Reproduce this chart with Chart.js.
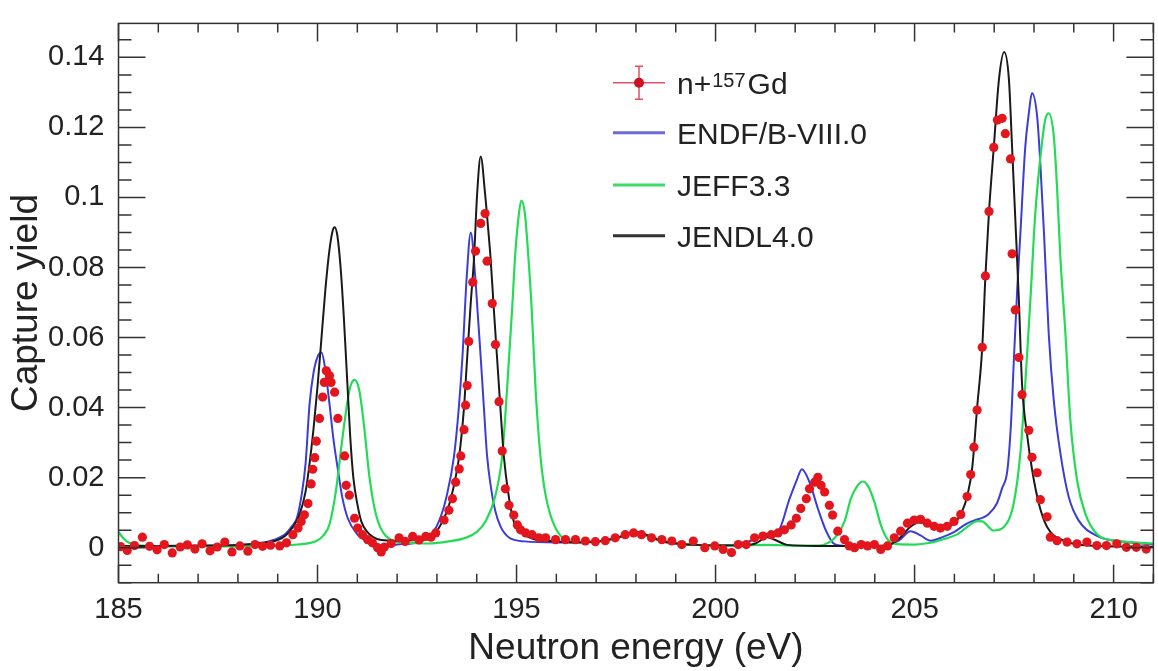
<!DOCTYPE html>
<html>
<head>
<meta charset="utf-8">
<script src="https://cdn.jsdelivr.net/npm/chart.js@4/dist/chart.umd.min.js"></script>
<style>
  html, body { margin: 0; padding: 0; background: #fff; }
  #wrap { width: 1158px; height: 671px; }
</style>
</head>
<body>
<div id="wrap"><canvas id="yieldChart" width="1158" height="671"></canvas></div>
<script>
// tick labels
const xTicks = [185, 190, 195, 200, 205, 210];
const yTicks = [0, 0.02, 0.04, 0.06, 0.08, 0.1, 0.12, 0.14];

const dataE = [185.05, 185.22, 185.40, 185.60, 185.78, 185.97, 186.15, 186.35, 186.55, 186.73,
  186.92, 187.10, 187.30, 187.48, 187.67, 187.85, 188.05, 188.25, 188.43, 188.62, 188.82,
  189.05, 189.22, 189.38, 189.51, 189.59, 189.67, 189.76, 189.84, 189.88, 189.93, 189.97,
  190.05, 190.13, 190.17, 190.22, 190.30, 190.34, 190.43, 190.51, 190.68, 190.72, 190.80,
  190.93, 191.01, 191.13, 191.26, 191.38, 191.51, 191.60, 191.68, 191.85, 192.05, 192.20,
  192.39, 192.55, 192.72, 192.85, 192.97, 193.18, 193.30, 193.39, 193.47, 193.56, 193.60,
  193.68, 193.72, 193.76, 193.80, 193.90, 193.97, 194.10, 194.21, 194.26, 194.39, 194.47,
  194.56, 194.64, 194.72, 194.81, 194.93, 195.02, 195.10, 195.23, 195.39, 195.56, 195.73,
  195.98, 196.23, 196.48, 196.73, 196.98, 197.23, 197.48, 197.73, 197.94, 198.14, 198.39,
  198.65, 198.90, 199.15, 199.44, 199.73, 199.98, 200.19, 200.40, 200.57, 200.77, 200.98,
  201.19, 201.40, 201.57, 201.73, 201.90, 202.03, 202.14, 202.28, 202.36, 202.49, 202.57,
  202.65, 202.74, 202.86, 202.94, 203.07, 203.24, 203.36, 203.49, 203.66, 203.82, 203.99,
  204.15, 204.32, 204.49, 204.65, 204.82, 204.99, 205.15, 205.32, 205.49, 205.65, 205.82,
  205.99, 206.16, 206.32, 206.41, 206.49, 206.57, 206.70, 206.78, 206.87, 206.99, 207.08,
  207.20, 207.28, 207.41, 207.45, 207.53, 207.62, 207.70, 207.87, 207.95, 208.08, 208.16,
  208.33, 208.41, 208.58, 208.83, 209.08, 209.33, 209.58, 209.82, 210.08, 210.32, 210.57, 210.82];
const dataY = [0.0003, -0.0008, 0.0006, 0.0030, 0.0004, -0.0006, 0.0009, -0.0015, 0.0002, 0.0008,
  -0.0004, 0.0011, -0.0009, 0.0002, 0.0016, -0.0012, 0.0005, -0.0010, 0.0009, 0.0004, 0.0007,
  0.0005, 0.0014, 0.0037, 0.0056, 0.0075, 0.0094, 0.0126, 0.0182, 0.0224, 0.0257, 0.0304,
  0.0369, 0.0430, 0.0472, 0.0505, 0.0491, 0.0472, 0.0444, 0.0369, 0.0262, 0.0178, 0.0150,
  0.0084, 0.0056, 0.0037, 0.0023, 0.0014, 0.0000, -0.0012, 0.0002, 0.0012, 0.0028, 0.0018,
  0.0032, 0.0022, 0.0032, 0.0030, 0.0042, 0.0079, 0.0107, 0.0140, 0.0187, 0.0225, 0.0262,
  0.0337, 0.0407, 0.0463, 0.0589, 0.0758, 0.0847, 0.0926, 0.0954, 0.0818, 0.0697, 0.0580,
  0.0417, 0.0276, 0.0168, 0.0121, 0.0093, 0.0065, 0.0051, 0.0042, 0.0037, 0.0028, 0.0028,
  0.0023, 0.0023, 0.0023, 0.0019, 0.0017, 0.0020, 0.0028, 0.0037, 0.0042, 0.0037, 0.0028,
  0.0023, 0.0019, 0.0009, 0.0019, 0.0000, 0.0005, -0.0005, -0.0014, 0.0009, 0.0009, 0.0028,
  0.0033, 0.0037, 0.0042, 0.0051, 0.0065, 0.0084, 0.0112, 0.0140, 0.0168, 0.0187, 0.0201,
  0.0178, 0.0159, 0.0121, 0.0093, 0.0047, 0.0023, 0.0005, 0.0000, 0.0009, 0.0005, 0.0009,
  -0.0005, 0.0005, 0.0028, 0.0047, 0.0070, 0.0079, 0.0081, 0.0070, 0.0061, 0.0056, 0.0061,
  0.0075, 0.0095, 0.0146, 0.0209, 0.0287, 0.0393, 0.0572, 0.0776, 0.0960, 0.1143, 0.1221,
  0.1226, 0.1182, 0.1110, 0.0839, 0.0679, 0.0543, 0.0437, 0.0335, 0.0258, 0.0214, 0.0137,
  0.0088, 0.0030, 0.0020, 0.0016, 0.0011, 0.0016, 0.0006, 0.0006, 0.0011, 0.0001, 0.0001, -0.0004];

// ENDF/B-VIII.0 curve
const endfE = [185.0, 186.0, 187.0, 188.0, 188.5, 188.9, 189.2, 189.35, 189.48, 189.6, 189.7, 189.8,
  189.9, 190.0, 190.1, 190.18, 190.3, 190.4, 190.51, 190.62, 190.76, 191.0, 191.22, 191.5, 191.7,
  192.0, 192.5, 192.8, 193.05, 193.25, 193.43, 193.55, 193.64, 193.75, 193.85, 193.96, 194.03,
  194.1, 194.18, 194.26, 194.36, 194.47, 194.6, 194.81, 195.2, 196.0, 197.0, 197.5, 198.0, 198.3,
  198.8, 199.5, 200.5, 201.0, 201.3, 201.57, 201.86, 202.03, 202.17, 202.36, 202.57, 202.78,
  202.99, 203.3, 204.2, 204.6, 204.9, 205.15, 205.4, 205.7, 206.0, 206.3, 206.55, 206.7, 206.85,
  207.07, 207.2, 207.33, 207.42, 207.5, 207.58, 207.66, 207.78, 207.87, 207.95, 208.08, 208.16,
  208.25, 208.37, 208.5, 208.66, 208.87, 209.12, 209.58, 210.4, 211.0];
const endfY = [0.0004, 0.0004, 0.0005, 0.0007, 0.0012, 0.0022, 0.0040, 0.0060, 0.0084, 0.0150, 0.0240, 0.0410,
  0.0500, 0.0545, 0.0557, 0.0520, 0.0411, 0.0310, 0.0224, 0.0145, 0.0084, 0.0038, 0.0019, 0.0008, 0.0006,
  0.0009, 0.0015, 0.0030, 0.0075, 0.0150, 0.0262, 0.0400, 0.0543, 0.0776, 0.0900, 0.0776, 0.0660,
  0.0543, 0.0400, 0.0262, 0.0170, 0.0103, 0.0060, 0.0029, 0.0018, 0.0015, 0.0017, 0.0027, 0.0043, 0.0033,
  0.0016, 0.0008, 0.0008, 0.0025, 0.0040, 0.0047, 0.0140, 0.0190, 0.0224, 0.0187, 0.0112, 0.0047,
  0.0010, 0.0005, 0.0005, 0.0020, 0.0047, 0.0035, 0.0020, 0.0030, 0.0045, 0.0068, 0.0080, 0.0085, 0.0095,
  0.0127, 0.0170, 0.0220, 0.0350, 0.0550, 0.0740, 0.0901, 0.1143, 0.1240, 0.1298, 0.1230, 0.1095,
  0.0901, 0.0611, 0.0417, 0.0272, 0.0146, 0.0078, 0.0034, 0.0015, 0.0010];

// JEFF3.3 curve
const jeffE = [185.0, 185.1, 185.25, 185.5, 186.5, 188.0, 189.0, 189.5, 189.97, 190.15, 190.3, 190.47,
  190.59, 190.72, 190.82, 190.93, 191.05, 191.18, 191.3, 191.47, 191.72, 192.22, 192.8, 193.3, 193.72,
  194.0, 194.22, 194.47, 194.64, 194.76, 194.89, 194.97, 195.06, 195.12, 195.21, 195.29, 195.38,
  195.48, 195.6, 195.73, 195.98, 196.39, 197.0, 197.5, 198.0, 198.3, 198.8, 199.5, 200.5, 201.3,
  202.0, 202.6, 202.85, 203.07, 203.24, 203.4, 203.57, 203.7, 203.82, 203.99, 204.15, 204.32, 204.57,
  205.0, 205.4, 205.75, 206.07, 206.4, 206.57, 206.7, 206.99, 207.24, 207.49, 207.66, 207.78, 207.91,
  208.03, 208.16, 208.28, 208.37, 208.5, 208.58, 208.66, 208.79, 208.91, 209.08, 209.29, 209.58,
  210.08, 211.0];
const jeffY = [0.0045, 0.0030, 0.0015, 0.0007, 0.0004, 0.0004, 0.0006, 0.0009, 0.0019, 0.0035, 0.0066, 0.0168,
  0.0280, 0.0393, 0.0458, 0.0479, 0.0449, 0.0337, 0.0206, 0.0094, 0.0033, 0.0014, 0.0012, 0.0018, 0.0028,
  0.0045, 0.0075, 0.0150, 0.0262, 0.0449, 0.0683, 0.0842, 0.0954, 0.0991, 0.0954, 0.0842, 0.0683,
  0.0449, 0.0262, 0.0150, 0.0056, 0.0019, 0.0017, 0.0027, 0.0043, 0.0033, 0.0015, 0.0008, 0.0007, 0.0008,
  0.0006, 0.0006, 0.0015, 0.0038, 0.0075, 0.0140, 0.0178, 0.0189, 0.0178, 0.0131, 0.0066, 0.0024, 0.0010,
  0.0009, 0.0014, 0.0025, 0.0038, 0.0066, 0.0076, 0.0075, 0.0049, 0.0059, 0.0127, 0.0272, 0.0466, 0.0708,
  0.0950, 0.1114, 0.1221, 0.1240, 0.1172, 0.1027, 0.0834, 0.0611, 0.0369, 0.0194, 0.0097, 0.0039,
  0.0020, 0.0012];

// JENDL4.0 curve
const jendlE = [185.0, 186.0, 187.0, 188.0, 188.5, 189.0, 189.2, 189.4, 189.55, 189.7, 189.8, 189.9,
  190.0, 190.1, 190.2, 190.3, 190.38, 190.43, 190.5, 190.58, 190.66, 190.74, 190.82, 190.9, 191.0,
  191.1, 191.25, 191.4, 191.6, 192.0, 192.5, 192.9, 193.14, 193.3, 193.45, 193.56, 193.68, 193.76,
  193.85, 193.93, 194.01, 194.1, 194.21, 194.28, 194.35, 194.43, 194.51, 194.6, 194.68, 194.8,
  194.93, 195.1, 195.45, 196.0, 196.5, 197.0, 197.5, 197.8, 198.05, 198.3, 198.6, 199.0, 199.5,
  200.0, 200.5, 201.0, 201.3, 201.5, 201.8, 202.5, 203.5, 204.3, 204.6, 204.85, 205.1, 205.35,
  205.6, 205.85, 206.05, 206.2, 206.32, 206.45, 206.57, 206.7, 206.78, 206.87, 206.99, 207.12,
  207.25, 207.37, 207.45, 207.53, 207.62, 207.7, 207.83, 207.95, 208.12, 208.33, 208.75, 209.58, 211.0];
const jendlY = [0.0005, 0.0005, 0.0006, 0.0008, 0.0012, 0.0022, 0.0035, 0.0062, 0.0095, 0.0160, 0.0240, 0.0340,
  0.0460, 0.0600, 0.0740, 0.0850, 0.0905, 0.0915, 0.0890, 0.0800, 0.0660, 0.0490, 0.0320, 0.0200, 0.0125,
  0.0075, 0.0045, 0.0030, 0.0022, 0.0020, 0.0022, 0.0035, 0.0075, 0.0120, 0.0190, 0.0262, 0.0400, 0.0543,
  0.0700, 0.0823, 0.1010, 0.1117, 0.1010, 0.0920, 0.0823, 0.0680, 0.0543, 0.0390, 0.0262, 0.0150,
  0.0075, 0.0045, 0.0024, 0.0018, 0.0015, 0.0017, 0.0028, 0.0038, 0.0045, 0.0035, 0.0020, 0.0012, 0.0008,
  0.0006, 0.0006, 0.0012, 0.0030, 0.0022, 0.0008, 0.0005, 0.0005, 0.0006, 0.0025, 0.0055, 0.0072, 0.0068,
  0.0060, 0.0062, 0.0075, 0.0105, 0.0146, 0.0230, 0.0398, 0.0572, 0.0776, 0.0960, 0.1143, 0.1337,
  0.1415, 0.1337, 0.1143, 0.0940, 0.0708, 0.0466, 0.0320, 0.0224, 0.0127, 0.0059, 0.0020, 0.0005, 0.0003];

const FONT = '"Liberation Sans", Arial, Helvetica, sans-serif';
const TEXT = '#222';

function toPoints(xs, ys) {
    return xs.map((x, i) => ({ x: x, y: ys[i] }));
}

// ROOT style frame with inward ticks on all four sides
const framePlugin = {
    id: 'frame',
    afterDatasetsDraw(chart) {
        const { ctx, chartArea: a, scales: { x, y } } = chart;
        ctx.save();
        ctx.strokeStyle = '#333';
        ctx.lineWidth = 1.5;
        ctx.strokeRect(a.left, a.top, a.right - a.left, a.bottom - a.top);
        ctx.beginPath();
        for (let v = 185; v <= 211; v++) {
            const px = x.getPixelForValue(v);
            const len = v % 5 === 0 ? 18 : 9;
            ctx.moveTo(px, a.bottom); ctx.lineTo(px, a.bottom - len);
            ctx.moveTo(px, a.top); ctx.lineTo(px, a.top + len);
        }
        for (let k = -2; k <= 29; k++) {
            const v = k * 0.005;
            const py = y.getPixelForValue(v);
            if (py < a.top || py > a.bottom) continue;
            const len = k % 4 === 0 ? 27 : 13;
            ctx.moveTo(a.left, py); ctx.lineTo(a.left + len, py);
            ctx.moveTo(a.right, py); ctx.lineTo(a.right - len, py);
        }
        ctx.stroke();
        ctx.restore();
    }
};

// legend drawn like the ROOT TLegend (with the superscript mass number)
const legendPlugin = {
    id: 'rootLegend',
    afterDraw(chart) {
        const ctx = chart.ctx;
        const x0 = 613, x1 = 665, tx = 677;
        const rows = [82.7, 132.7, 185, 235.7];
        ctx.save();
        // data entry
        ctx.strokeStyle = '#e0506a';
        ctx.lineWidth = 1.5;
        ctx.beginPath();
        ctx.moveTo(x0, rows[0]); ctx.lineTo(x1, rows[0]);
        ctx.moveTo(639, rows[0] - 16.5); ctx.lineTo(639, rows[0] + 16.5);
        ctx.moveTo(635, rows[0] - 16.5); ctx.lineTo(643, rows[0] - 16.5);
        ctx.moveTo(635, rows[0] + 16.5); ctx.lineTo(643, rows[0] + 16.5);
        ctx.stroke();
        ctx.fillStyle = '#d01020';
        ctx.beginPath();
        ctx.arc(639, rows[0], 5, 0, Math.PI * 2);
        ctx.fill();

        const lines = [['#6a6ad2', 1], ['#3ddc6a', 2], ['#333333', 3]];
        ctx.lineWidth = 3;
        lines.forEach(([c, r]) => {
            ctx.strokeStyle = c;
            ctx.beginPath();
            ctx.moveTo(x0, rows[r]); ctx.lineTo(x1, rows[r]);
            ctx.stroke();
        });

        ctx.fillStyle = TEXT;
        ctx.textBaseline = 'alphabetic';
        ctx.font = '30px ' + FONT;
        const base0 = rows[0] + 11;
        ctx.fillText('n+', tx, base0);
        let cx = tx + ctx.measureText('n+').width + 1;
        ctx.font = '20px ' + FONT;
        ctx.fillText('157', cx, base0 - 7);
        cx += ctx.measureText('157').width + 2;
        ctx.font = '30px ' + FONT;
        ctx.fillText('Gd', cx, base0);
        ctx.fillText('ENDF/B-VIII.0', tx, rows[1] + 11);
        ctx.fillText('JEFF3.3', tx, rows[2] + 11);
        ctx.fillText('JENDL4.0', tx, rows[3] + 11);
        ctx.restore();
    }
};

const chart = new Chart(document.getElementById('yieldChart'), {
    type: 'scatter',
    data: {
        datasets: [{
            label: 'n+157Gd',
            data: toPoints(dataE, dataY),
            showLine: false,
            pointRadius: 4.6,
            pointBackgroundColor: '#e3151d',
            pointBorderWidth: 0,
            order: 0
        }, {
            label: 'ENDF/B-VIII.0',
            data: toPoints(endfE, endfY),
            showLine: true,
            borderColor: '#3c3cd6',
            borderWidth: 2,
            pointRadius: 0,
            cubicInterpolationMode: 'monotone',
            order: 3
        }, {
            label: 'JEFF3.3',
            data: toPoints(jeffE, jeffY),
            showLine: true,
            borderColor: '#22dc55',
            borderWidth: 2.2,
            pointRadius: 0,
            cubicInterpolationMode: 'monotone',
            order: 2
        }, {
            label: 'JENDL4.0',
            data: toPoints(jendlE, jendlY),
            showLine: true,
            borderColor: '#1a1a1a',
            borderWidth: 2,
            pointRadius: 0,
            cubicInterpolationMode: 'monotone',
            order: 1
        }]
    },
    options: {
        responsive: false,
        devicePixelRatio: 1,
        animation: false,
        layout: { padding: { top: 14.3, right: 1, left: 0, bottom: 0 } },
        plugins: { legend: { display: false }, tooltip: { enabled: false } },
        scales: {
            x: {
                type: 'linear',
                min: 185,
                max: 211,
                afterBuildTicks: ax => { ax.ticks = xTicks.map(v => ({ value: v })); },
                afterFit: ax => { ax.height = 88.3; },
                grid: { display: false },
                border: { display: false },
                ticks: { font: { family: FONT, size: 29 }, color: TEXT, padding: 2, maxRotation: 0, autoSkip: false },
                title: {
                    display: true,
                    text: 'Neutron energy (eV)',
                    font: { family: FONT, size: 37 },
                    color: TEXT,
                    padding: { top: 0, bottom: 0 }
                }
            },
            y: {
                type: 'linear',
                min: -0.01,
                max: 0.1497,
                afterBuildTicks: ax => { ax.ticks = yTicks.map(v => ({ value: v })); },
                afterFit: ax => { ax.width = 118.5; },
                grid: { display: false },
                border: { display: false },
                ticks: {
                    font: { family: FONT, size: 29 },
                    color: TEXT,
                    padding: 6,
                    callback: v => String(+v.toFixed(2))
                },
                title: {
                    display: true,
                    text: 'Capture yield',
                    font: { family: FONT, size: 37 },
                    color: TEXT,
                    padding: { top: 5, bottom: 0 }
                }
            }
        }
    },
    plugins: [framePlugin, legendPlugin]
});
</script>
</body>
</html>
